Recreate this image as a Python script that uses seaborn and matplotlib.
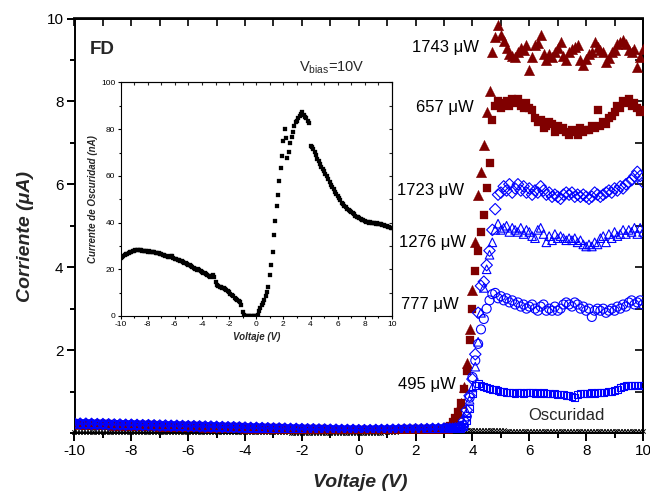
import numpy as np
import pandas as pd
import matplotlib
matplotlib.use("Agg")
import matplotlib.pyplot as plt
import seaborn as sns
from matplotlib.ticker import MultipleLocator, FixedLocator

sns.set_style("ticks")
plt.rcParams["font.family"] = ["Liberation Sans", "DejaVu Sans"]
plt.rcParams["axes.unicode_minus"] = False
plt.rcParams["mathtext.fontset"] = "custom"
plt.rcParams["mathtext.rm"] = "Liberation Sans"
plt.rcParams["mathtext.it"] = "Liberation Sans:italic"
plt.rcParams["mathtext.bf"] = "Liberation Sans:bold"

# ---------------------------------------------------------------- data
# voltage sweeps (V)
v_low = np.round(np.arange(-10.0, 3.0 + 1e-9, 0.2), 2)    # reverse / low-bias part
v_high = np.round(np.arange(3.1, 10.0 + 1e-9, 0.1), 2)    # onset and plateau
v_dark = np.round(np.arange(-10.0, 10.0 + 1e-9, 0.1), 2)  # dark-current sweep

# current below the onset, common to the illuminated sweeps (uA)
i_low = [0.23, 0.225, 0.225, 0.22, 0.215, 0.215, 0.21, 0.205, 0.205, 0.20,
         0.20, 0.195, 0.19, 0.19, 0.185, 0.18, 0.18, 0.175, 0.175, 0.17,
         0.165, 0.165, 0.16, 0.155, 0.155, 0.15, 0.145, 0.14, 0.14, 0.135,
         0.13, 0.125, 0.125, 0.12, 0.115, 0.11, 0.11, 0.105, 0.10, 0.10,
         0.095, 0.09, 0.09, 0.085, 0.085, 0.08, 0.08, 0.075, 0.075, 0.075,
         0.07, 0.07, 0.07, 0.075, 0.075, 0.075, 0.08, 0.08, 0.085, 0.085,
         0.09, 0.09, 0.095, 0.10, 0.10, 0.105]

# photocurrent from 3.1 V to 10 V (uA)
i_1743 = [0.12, 0.15, 0.22, 0.32, 0.48, 0.72, 1.1, 1.7, 2.5,
          3.45, 4.6, 5.75, 6.3, 6.95, 7.75, 8.25, 9.2, 9.55, 9.85,
          9.6, 9.45, 9.3, 9.15, 9.1, 9.07, 9.2, 9.3, 9.25, 9.35,
          8.75, 9.07, 9.35, 9.4, 9.59, 9.15, 8.99, 9.15, 9.07, 9.19,
          9.3, 9.43, 9.1, 8.99, 9.19, 9.27, 9.31, 9.35, 8.99, 8.87,
          9.03, 9.15, 9.19, 9.43, 9.31, 9.23, 9.19, 8.95, 9.05, 9.19,
          9.25, 9.39, 9.43, 9.47, 9.39, 9.25, 9.19, 9.27, 8.83, 9.07,
          9.27]
i_657 = [0.14, 0.18, 0.26, 0.36, 0.5, 0.72, 1.05, 1.5, 2.25,
         2.98, 3.9, 4.4, 4.84, 5.26, 5.9, 6.52, 7.55, 7.9, 8.0,
         7.85, 7.95, 8.0, 7.9, 8.05, 7.95, 8.05, 7.9, 7.85, 7.95,
         7.85, 7.8, 7.6, 7.5, 7.55, 7.35, 7.4, 7.5, 7.45, 7.25,
         7.4, 7.3, 7.35, 7.25, 7.2, 7.3, 7.25, 7.2, 7.35, 7.25,
         7.3, 7.3, 7.4, 7.35, 7.8, 7.4, 7.5, 7.45, 7.6, 7.65,
         7.75, 7.9, 7.85, 8.0, 7.95, 8.05, 7.9, 7.95, 7.85, 7.75,
         7.8]
i_1723 = [0.1, 0.1, 0.1, 0.11, 0.12, 0.15, 0.3, 0.55, 0.9,
          1.3, 1.9, 2.9, 3.55, 3.65, 4.05, 4.4, 4.9, 5.4, 5.75,
          5.8, 5.95, 5.85, 6.0, 5.8, 5.9, 6.0, 5.85, 5.95, 5.8,
          5.9, 5.75, 5.85, 5.8, 5.95, 5.85, 5.75, 5.8, 5.7, 5.75,
          5.7, 5.65, 5.75, 5.8, 5.75, 5.8, 5.7, 5.75, 5.7, 5.75,
          5.7, 5.65, 5.7, 5.8, 5.75, 5.7, 5.75, 5.8, 5.85, 5.8,
          5.9, 5.85, 5.95, 5.9, 6.0, 6.05, 6.1, 6.2, 6.3, 6.2,
          6.05]
i_1276 = [0.1, 0.1, 0.1, 0.1, 0.12, 0.15, 0.25, 0.5, 0.8,
          1.1, 1.6, 2.2, 2.9, 3.5, 3.95, 4.3, 4.6, 4.9, 5.05,
          4.9, 4.95, 5.0, 4.85, 4.95, 4.9, 4.85, 4.95, 4.8, 4.9,
          4.85, 4.75, 4.7, 4.9, 4.95, 4.8, 4.6, 4.75, 4.65, 4.8,
          4.7, 4.75, 4.7, 4.65, 4.7, 4.65, 4.7, 4.6, 4.65, 4.55,
          4.5, 4.55, 4.5, 4.6, 4.55, 4.7, 4.75, 4.6, 4.8, 4.7,
          4.85, 4.75, 4.8, 4.9, 4.8, 4.9, 4.85, 4.95, 4.8, 4.95,
          4.85]
i_777 = [0.1, 0.1, 0.1, 0.1, 0.1, 0.12, 0.18, 0.4, 0.85,
         1.35, 1.75, 2.15, 2.5, 2.75, 3.0, 3.2, 3.35, 3.38, 3.25,
         3.3, 3.2, 3.25, 3.15, 3.2, 3.1, 3.15, 3.05, 3.1, 3.0,
         3.05, 3.1, 3.0, 2.95, 3.05, 3.1, 2.95, 3.0, 2.95, 3.05,
         2.95, 3.0, 3.1, 3.15, 3.1, 3.05, 3.15, 3.1, 3.0, 3.05,
         2.95, 3.0, 2.8, 2.95, 3.0, 2.95, 3.0, 2.9, 2.95, 3.0,
         2.95, 3.05, 3.0, 3.1, 3.05, 3.15, 3.2, 3.1, 3.15, 3.2,
         3.1]
i_495 = [0.1, 0.1, 0.1, 0.1, 0.1, 0.11, 0.15, 0.3, 0.6,
         0.95, 1.15, 1.2, 1.15, 1.12, 1.1, 1.08, 1.05, 1.05, 1.02,
         1.0, 1.0, 0.98, 0.97, 0.98, 0.96, 0.98, 0.97, 0.96, 0.97,
         0.98, 0.97, 0.95, 0.97, 0.96, 0.98, 0.96, 0.95, 0.94, 0.96,
         0.93, 0.94, 0.92, 0.9, 0.9, 0.88, 0.86, 0.93, 0.95, 0.96,
         0.95, 0.96, 0.97, 0.96, 0.97, 0.98, 0.98, 0.99, 1.0, 1.0,
         1.02, 1.05, 1.1, 1.12, 1.14, 1.15, 1.15, 1.16, 1.15, 1.16,
         1.15]

# dark current (nA), -10 V to 10 V
dark_nA = [24.7, 25.2, 25.6, 26.0, 26.5, 26.7, 27.0, 27.3, 27.6, 27.8,
           28.0, 28.2, 28.3, 28.3, 28.1, 28.2, 28.0, 27.9, 27.8, 27.7,
           27.6, 27.7, 27.5, 27.4, 27.5, 27.2, 27.0, 27.1, 26.8, 26.7,
           26.5, 26.3, 26.1, 25.8, 25.6, 25.4, 25.2, 25.8, 25.5, 25.0,
           24.6, 24.3, 24.0, 23.8, 23.6, 23.4, 23.1, 22.8, 22.6, 22.3,
           22.0, 21.7, 21.4, 21.0, 20.6, 20.3, 19.8, 20.2, 19.6, 19.3,
           19.0, 18.6, 18.3, 18.0, 17.5, 17.1, 16.6, 17.3, 17.5, 16.8,
           14.5, 13.4, 13.0, 12.6, 12.4, 12.2, 12.0, 11.6, 11.2, 10.8,
           10.2, 9.6, 8.9, 8.4, 7.8, 7.2, 6.8, 6.3, 5.8, 4.5,
           1.8, 0.4, 0.1, 0.0, 0.0, 0.0, 0.0, 0.0, 0.0, 0.0,
           0.0, 0.6, 2.0, 3.5, 4.5, 5.6, 7.0, 8.6, 10.2, 12.6,
           17.4, 22.0, 27.6, 34.6, 40.6, 47.0, 52.0, 58.0, 63.5, 68.6,
           75.0, 80.0, 76.2, 67.6, 70.4, 74.2, 76.6, 79.0, 81.2, 83.0,
           83.6, 84.6, 85.6, 86.6, 87.2, 86.2, 85.2, 84.6, 83.6, 82.6,
           72.6, 72.2, 71.6, 70.4, 69.0, 67.4, 66.2, 65.0, 64.0, 63.0,
           62.2, 61.0, 59.8, 58.6, 57.2, 56.2, 55.2, 54.2, 53.2, 52.2,
           51.2, 50.4, 49.6, 48.6, 47.8, 47.2, 46.6, 46.0, 45.6, 45.0,
           44.6, 44.0, 43.6, 43.0, 42.6, 42.4, 42.0, 41.6, 41.2, 41.0,
           40.6, 40.4, 40.2, 40.0, 40.2, 39.8, 40.0, 39.8, 39.6, 39.8,
           39.6, 39.4, 39.2, 39.0, 38.8, 38.6, 38.4, 38.2, 38.0, 37.8,
           37.6]

series_labels = ["1743 \u03bcW", "657 \u03bcW", "1723 \u03bcW",
                 "1276 \u03bcW", "777 \u03bcW", "495 \u03bcW"]
series_currents = [i_1743, i_657, i_1723, i_1276, i_777, i_495]
dark_label = "Oscuridad"

# ---------------------------------------------------------------- styles
RED = "#800000"
BLUE = "#0000ff"
styles = {
    "1743 \u03bcW": dict(marker="^", s=58, filled=True, color=RED, pos=(4.22, 9.31)),
    "657 \u03bcW": dict(marker="s", s=36, filled=True, color=RED, pos=(4.06, 7.85)),
    "1723 \u03bcW": dict(marker="D", s=34, filled=False, color=BLUE, pos=(3.70, 5.86)),
    "1276 \u03bcW": dict(marker="^", s=38, filled=False, color=BLUE, pos=(3.78, 4.59)),
    "777 \u03bcW": dict(marker="o", s=42, filled=False, color=BLUE, pos=(3.52, 3.10)),
    "495 \u03bcW": dict(marker="s", s=24, filled=False, color=BLUE, pos=(3.42, 1.18)),
}

W, H = 650, 496
fig = plt.figure(figsize=(W / 100, H / 100), dpi=100)
fig.patch.set_facecolor("white")


def px_rect(left, top, right, bottom):
    return [left / W, 1 - bottom / H, (right - left) / W, (bottom - top) / H]


ax = fig.add_axes(px_rect(74.5, 18.5, 643, 433))

# dark current in uA along the bottom of the main panel
dark_df = pd.DataFrame({"V": v_dark, "I": np.array(dark_nA) / 1000.0})
sns.scatterplot(data=dark_df, x="V", y="I", marker="x", s=10, color="black",
                linewidth=0.7, ax=ax, zorder=2, clip_on=False)

# illuminated sweeps: red first, blue on top
for lab, cur in zip(series_labels, series_currents):
    st = styles[lab]
    df = pd.DataFrame({"V": np.concatenate([v_low, v_high]),
                       "I": np.concatenate([i_low, cur])})
    if st["filled"]:
        sns.scatterplot(data=df, x="V", y="I", marker=st["marker"], s=st["s"],
                        color=st["color"], edgecolor=st["color"], linewidth=0.2,
                        ax=ax, zorder=3)
    else:
        sns.scatterplot(data=df, x="V", y="I", marker=st["marker"], s=st["s"],
                        color=st["color"], facecolor="none", edgecolor=st["color"],
                        linewidth=0.8, ax=ax, zorder=4)
    ax.text(st["pos"][0], st["pos"][1], lab, ha="right", va="center",
            fontsize=12, color="black", zorder=6)

ax.text(7.3, 0.42, dark_label, ha="center", va="center", fontsize=12, zorder=6)
ax.text(-9.45, 9.25, "FD", ha="left", va="center", fontsize=13.5,
        fontweight="bold", zorder=6)
ax.text(-2.1, 8.72, r"V$_{\mathregular{bias}}$=10V", ha="left", va="baseline",
        fontsize=10.5, zorder=6)

ax.set_xlim(-10, 10)
ax.set_ylim(0, 10)


def frame(a, lw, xmaj, xmin, ymaj, ymin, top_step, right_step,
          maj_len, min_len, in_len, labsize, pad):
    a.xaxis.set_major_locator(MultipleLocator(xmaj))
    a.xaxis.set_minor_locator(MultipleLocator(xmin))
    if isinstance(ymaj, list):
        a.yaxis.set_major_locator(FixedLocator(ymaj))
    else:
        a.yaxis.set_major_locator(MultipleLocator(ymaj))
    a.yaxis.set_minor_locator(MultipleLocator(ymin))
    a.tick_params(which="both", direction="out", top=False, right=False,
                  width=lw, colors="black", labelsize=labsize, pad=pad)
    a.tick_params(which="major", length=maj_len)
    a.tick_params(which="minor", length=min_len)
    for sp in a.spines.values():
        sp.set_visible(True)
        sp.set_linewidth(lw)
        sp.set_color("black")
    top = a.secondary_xaxis("top")
    top.xaxis.set_major_locator(MultipleLocator(top_step))
    top.tick_params(direction="in", length=in_len, width=lw, labeltop=False)
    top.spines["top"].set_linewidth(lw)
    right = a.secondary_yaxis("right")
    right.yaxis.set_major_locator(MultipleLocator(right_step))
    right.tick_params(direction="in", length=in_len, width=lw, labelright=False)
    right.spines["right"].set_linewidth(lw)


frame(ax, 1.4, 2, 1, [2, 4, 6, 8, 10], 1, 1, 1, 5.5, 3.5, 5.5, 11, 2.5)
ax.set_xlabel("Voltaje (V)", fontsize=14, fontweight="bold", fontstyle="italic")
ax.set_ylabel("Corriente (\u03bcA)", fontsize=14, fontweight="bold",
              fontstyle="italic")
ax.xaxis.set_label_coords(0.502, -0.1)
ax.yaxis.set_label_coords(-0.072, 0.475)

# inset: dark current in nA
ax_in = fig.add_axes(px_rect(120.5, 82.5, 392, 316))
ax_in.set_facecolor("white")
inset_df = pd.DataFrame({"V": v_dark, "I": dark_nA})
sns.scatterplot(data=inset_df, x="V", y="I", marker="s", s=11, color="black",
                edgecolor="black", linewidth=0.2, ax=ax_in, zorder=3)
ax_in.set_xlim(-10, 10)
ax_in.set_ylim(0, 100)
frame(ax_in, 0.8, 2, 1, 20, 10, 1, 10, 2.2, 1.4, 2.2, 6, 1.5)
ax_in.set_xlabel("Voltaje (V)", fontsize=7, fontweight="bold", fontstyle="italic",
                 labelpad=3)
ax_in.set_ylabel("Currente de Oscuridad (nA)", fontsize=7, fontweight="bold",
                 fontstyle="italic", labelpad=2)

fig.savefig("out.png", dpi=100, facecolor="white")
